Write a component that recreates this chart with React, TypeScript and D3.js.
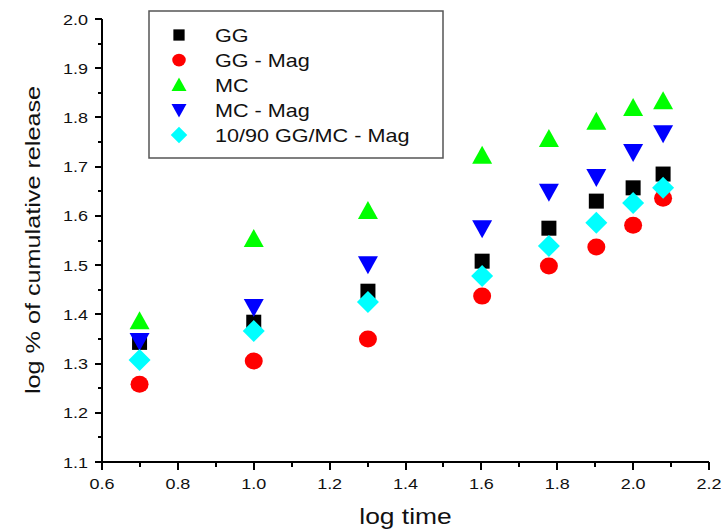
import React from 'react'
import * as d3 from 'd3'

const logTime = [0.699, 1.0, 1.301, 1.602, 1.778, 1.903, 2.0, 2.079]

const gg = [1.343, 1.384, 1.447, 1.508, 1.575, 1.63, 1.657, 1.685]
const ggMag = [1.258, 1.305, 1.35, 1.437, 1.498, 1.537, 1.581, 1.636]
const mc = [1.386, 1.553, 1.61, 1.722, 1.756, 1.791, 1.819, 1.833]
const mcMag = [1.346, 1.415, 1.502, 1.575, 1.649, 1.679, 1.73, 1.768]
const blend = [1.307, 1.366, 1.425, 1.478, 1.539, 1.586, 1.626, 1.657]

const xTicks = [0.6, 0.8, 1.0, 1.2, 1.4, 1.6, 1.8, 2.0, 2.2]
const yTicks = [1.1, 1.2, 1.3, 1.4, 1.5, 1.6, 1.7, 1.8, 1.9, 2.0]

const series = [
  { name: 'GG', values: gg, color: '#000000', shape: 'square' },
  { name: 'GG - Mag', values: ggMag, color: '#ff0000', shape: 'circle' },
  { name: 'MC', values: mc, color: '#00ff00', shape: 'up' },
  { name: 'MC - Mag', values: mcMag, color: '#0000ff', shape: 'down' },
  { name: '10/90 GG/MC - Mag', values: blend, color: '#00ffff', shape: 'diamond' },
]

const font = 'Arial, "Liberation Sans", sans-serif'

// plot box
const left = 102, right = 709, top = 19, bottom = 462

// the original text is a bit stretched sideways
const Label = ({ x, y, size, anchor = 'start', rotate = 0, children }) => (
  <text
    transform={`translate(${x},${y}) rotate(${rotate}) scale(1.2,1)`}
    textAnchor={anchor}
    fontFamily={font}
    fontSize={size}
    fill="#111"
  >
    {children}
  </text>
)

const Marker = ({ shape, x, y, color }) => {
  if (shape === 'square') return <rect x={x - 7.5} y={y - 7.5} width={15} height={15} fill={color} />
  if (shape === 'circle') return <ellipse cx={x} cy={y} rx={9} ry={8.5} fill={color} />
  if (shape === 'up') return <path d={`M${x},${y - 10} L${x + 10},${y + 8} L${x - 10},${y + 8} Z`} fill={color} />
  if (shape === 'down') return <path d={`M${x},${y + 10} L${x + 10},${y - 8} L${x - 10},${y - 8} Z`} fill={color} />
  return <path d={`M${x},${y - 11} L${x + 11},${y} L${x},${y + 11} L${x - 11},${y} Z`} fill={color} />
}

export default function App() {
  const xScale = d3.scaleLinear().domain([0.6, 2.2]).range([left, right])
  const yScale = d3.scaleLinear().domain([1.1, 2.0]).range([bottom, top])
  const xMinor = d3.range(0.7, 2.2, 0.2)
  const yMinor = d3.range(1.15, 2.0, 0.1)

  return (
    <svg width={721} height={531} style={{ position: 'absolute', left: 0, top: 0, background: '#fff' }}>
      {/* points */}
      {series.map(s => (
        <g key={s.name}>
          {s.values.map((v, i) => (
            <Marker key={i} shape={s.shape} x={xScale(logTime[i])} y={yScale(v)} color={s.color} />
          ))}
        </g>
      ))}

      {/* axes */}
      <g stroke="#000" strokeWidth={2} shapeRendering="crispEdges">
        <line x1={left} x2={left} y1={top} y2={bottom + 1} />
        <line x1={left - 1} x2={right} y1={bottom} y2={bottom} />
        {xTicks.map(t => <line key={t} x1={xScale(t)} x2={xScale(t)} y1={bottom} y2={bottom + 8} />)}
        {xMinor.map(t => <line key={t} x1={xScale(t)} x2={xScale(t)} y1={bottom} y2={bottom + 5} />)}
        {yTicks.map(t => <line key={t} x1={left - 7} x2={left} y1={yScale(t)} y2={yScale(t)} />)}
        {yMinor.map(t => <line key={t} x1={left - 4} x2={left} y1={yScale(t)} y2={yScale(t)} />)}
      </g>
      {xTicks.map(t => (
        <Label key={t} x={xScale(t)} y={bottom + 27} size={15} anchor="middle">{t.toFixed(1)}</Label>
      ))}
      {yTicks.map(t => (
        <Label key={t} x={left - 14} y={yScale(t) + 5.5} size={15} anchor="end">{t.toFixed(1)}</Label>
      ))}

      <Label x={(left + right) / 2} y={524} size={22} anchor="middle">log time</Label>
      <Label x={40} y={240} size={21} anchor="middle" rotate={-90}>
        log % of cumulative release
      </Label>

      {/* legend */}
      <rect x={149} y={11} width={294} height={147} fill="#fff" stroke="#555" strokeWidth={1.5} />
      {series.map((s, i) => {
        const y = 35 + i * 25
        return (
          <g key={s.name}>
            <g transform={`translate(179,${y}) scale(0.75) translate(-179,${-y})`}>
              <Marker shape={s.shape} x={179} y={y} color={s.color} />
            </g>
            <Label x={215} y={y + 6.5} size={18}>{s.name}</Label>
          </g>
        )
      })}
    </svg>
  )
}
